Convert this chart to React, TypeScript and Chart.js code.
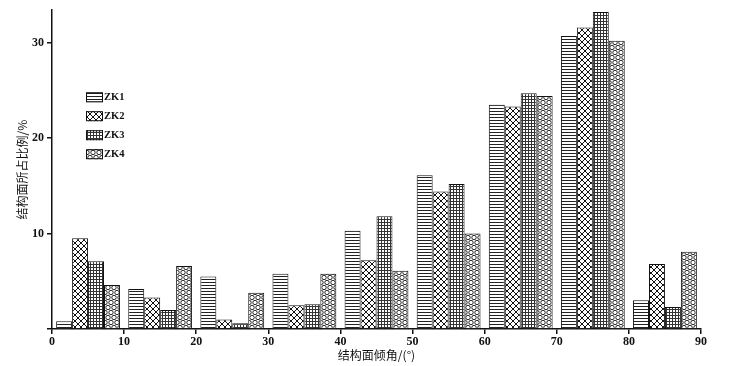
import React, { useEffect, useRef } from 'react';
import { Chart, registerables } from 'chart.js';

Chart.register(...registerables);

// ---- data ----
const binCenters = [5, 15, 25, 35, 45, 55, 65, 75, 85];
const seriesNames = ['ZK1', 'ZK2', 'ZK3', 'ZK4'];
const zk1 = [0.8, 4.2, 5.5, 5.8, 10.3, 16.1, 23.5, 30.7, 3.0];
const zk2 = [9.5, 3.3, 1.0, 2.5, 7.2, 14.4, 23.3, 31.6, 6.8];
const zk3 = [7.1, 2.0, 0.6, 2.6, 11.8, 15.2, 24.7, 33.2, 2.3];
const zk4 = [4.6, 6.6, 3.8, 5.8, 6.1, 10.0, 24.4, 30.2, 8.1];
const xTickValues = [0, 10, 20, 30, 40, 50, 60, 70, 80, 90];
const yTickValues = [0, 10, 20, 30];
const xTitle = '结构面倾角/(°)';
const yTitle = '结构面所占比例/%';

const seriesValues = [zk1, zk2, zk3, zk4];

function makePattern(kind: number): CanvasPattern | string {
  const c = document.createElement('canvas');
  const ctx = c.getContext('2d');
  if (!ctx) return '#fff';
  if (kind === 0) {
    c.width = 4; c.height = 3;
    ctx.fillStyle = '#fff'; ctx.fillRect(0, 0, 4, 3);
    ctx.fillStyle = '#222'; ctx.fillRect(0, 0, 4, 1);
  } else if (kind === 1) {
    c.width = 6; c.height = 6;
    ctx.fillStyle = '#fff'; ctx.fillRect(0, 0, 6, 6);
    ctx.strokeStyle = '#111'; ctx.lineWidth = 1;
    ctx.beginPath();
    ctx.moveTo(-1, -1); ctx.lineTo(7, 7);
    ctx.moveTo(7, -1); ctx.lineTo(-1, 7);
    ctx.stroke();
  } else if (kind === 2) {
    c.width = 3; c.height = 3;
    ctx.fillStyle = '#fff'; ctx.fillRect(0, 0, 3, 3);
    ctx.fillStyle = '#333';
    ctx.fillRect(0, 0, 3, 1);
    ctx.fillRect(0, 0, 1, 3);
  } else {
    c.width = 6; c.height = 10;
    ctx.fillStyle = '#fff'; ctx.fillRect(0, 0, 6, 10);
    ctx.strokeStyle = '#111'; ctx.lineWidth = 0.9;
    const circ = (x: number, y: number) => {
      ctx.beginPath(); ctx.arc(x, y, 2.2, 0, Math.PI * 2); ctx.stroke();
    };
    circ(3, 2.5); circ(0, 7.5); circ(6, 7.5); circ(3, 12.5); circ(0, -2.5); circ(6, -2.5);
  }
  return ctx.createPattern(c, 'repeat') || '#fff';
}

const legendPlugin = {
  id: 'patternLegend',
  afterDraw(chart: any) {
    const ctx = chart.ctx;
    const area = chart.chartArea;
    const x0 = area.left + 34;
    const y0 = area.top + 82;
    ctx.save();
    chart.data.datasets.forEach((ds: any, i: number) => {
      const y = y0 + i * 19;
      ctx.fillStyle = ds.backgroundColor;
      ctx.fillRect(x0, y, 17, 10);
      ctx.strokeStyle = '#111';
      ctx.lineWidth = 1;
      ctx.strokeRect(x0 + 0.5, y + 0.5, 16, 9);
      ctx.fillStyle = '#111';
      ctx.font = 'bold 10.5px "Liberation Serif", serif';
      ctx.textBaseline = 'middle';
      ctx.textAlign = 'left';
      ctx.fillText(ds.label, x0 + 18, y + 5.5);
    });
    ctx.restore();
  },
};

const whiteBg = {
  id: 'whiteBg',
  beforeDraw(chart: any) {
    const ctx = chart.ctx;
    ctx.save();
    ctx.fillStyle = '#fff';
    ctx.fillRect(0, 0, chart.width, chart.height);
    ctx.restore();
  },
};

export default function App() {
  const ref = useRef<HTMLCanvasElement | null>(null);
  useEffect(() => {
    if (!ref.current) return;
    const datasets = seriesNames.map((name, si) => ({
      label: name,
      data: binCenters.map((x, i) => ({ x, y: seriesValues[si][i] })),
      backgroundColor: makePattern(si) as any,
      borderColor: '#111',
      borderWidth: 1,
      borderSkipped: 'bottom' as const,
      categoryPercentage: 0.885,
      barPercentage: 1,
    }));
    const tickFont = { family: '"Liberation Serif", serif', size: 12, weight: 'bold' as const };
    const titleFont = { family: '"Noto Sans CJK SC", sans-serif', size: 12 };
    const chart = new Chart(ref.current, {
      type: 'bar',
      data: { datasets },
      plugins: [whiteBg, legendPlugin],
      options: {
        animation: false,
        responsive: false,
        layout: { padding: { top: 9, right: 31, left: 0, bottom: 0 } },
        plugins: { legend: { display: false }, tooltip: { enabled: false } },
        scales: {
          x: {
            type: 'linear',
            min: 0,
            max: 90,
            offset: false,
            afterBuildTicks: (s: any) => { s.ticks = xTickValues.map((v) => ({ value: v })); },
            afterFit: (s: any) => { s.height = 37; },
            ticks: { color: '#111', font: tickFont, padding: 1, maxRotation: 0, autoSkip: false },
            grid: { display: true, offset: false, drawOnChartArea: false, drawTicks: true, tickLength: 5, color: '#111', lineWidth: 1.5 },
            border: { display: true, color: '#111', width: 1.5 },
            title: { display: true, text: xTitle, color: '#111', font: titleFont, padding: { top: 0, bottom: 3 } },
          },
          y: {
            type: 'linear',
            min: 0,
            max: 33.4,
            afterBuildTicks: (s: any) => { s.ticks = yTickValues.map((v) => ({ value: v })); },
            afterFit: (s: any) => { s.width = 52; },
            ticks: {
              color: '#111', font: tickFont, padding: 3,
              callback: (v: any) => (v === 0 ? '' : String(v)),
            },
            grid: { display: true, offset: false, drawOnChartArea: false, drawTicks: true, tickLength: 5, color: '#111', lineWidth: 1.5 },
            border: { display: true, color: '#111', width: 1.5 },
            title: { display: true, text: yTitle, color: '#111', font: titleFont, padding: { top: 15, bottom: 0 } },
          },
        },
      } as any,
    });
    return () => chart.destroy();
  }, []);
  return (
    <div style={{ position: 'fixed', left: 0, top: 0, width: 732, height: 366, background: '#fff' }}>
      <canvas ref={ref} width={732} height={366} style={{ display: 'block' }} />
    </div>
  );
}
